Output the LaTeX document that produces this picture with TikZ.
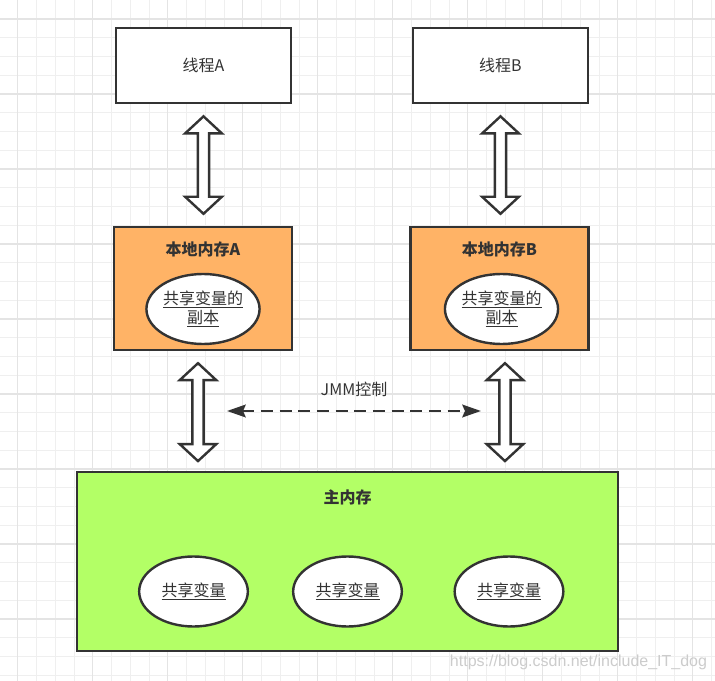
\documentclass[tikz,border=0pt]{standalone}
\usepackage{fontspec}
\setmainfont{Noto Sans CJK SC}
\newfontfamily\markfont{Liberation Sans}
\usetikzlibrary{arrows.meta, calc, shapes.geometric, positioning}

\definecolor{ink}{HTML}{333333}
\definecolor{cachefill}{HTML}{FFB366}
\definecolor{memfill}{HTML}{B3FF66}
\definecolor{gridminor}{HTML}{EFEFEF}
\definecolor{gridmajor}{HTML}{E4E4E4}

\tikzset{
  thread/.style = {rectangle, draw=ink, line width=1.8pt, fill=white, minimum width=131.5pt, minimum height=56.5pt, text=ink, font=\fontsize{12}{15}\selectfont},
  cache/.style = {rectangle, draw=ink, line width=1.8pt, fill=cachefill, minimum width=133.5pt, minimum height=92.25pt},
  mainmem/.style = {rectangle, draw=ink, line width=1.8pt, fill=memfill, minimum width=405.75pt, minimum height=134.25pt},
  title/.style = {text=ink, font=\bfseries\fontsize{12}{15}\selectfont},
  var/.style = {ellipse, draw=ink, line width=1.8pt, fill=white, inner sep=0pt, minimum width=81.5pt, minimum height=52.5pt, text=ink, align=center, font=\fontsize{12}{14.5}\selectfont},
  fat/.style = {draw=ink, line width=1.8pt, fill=white, line join=miter,
    to path={let \p1=(\tikztostart), \p2=(\tikztotarget) in
      (\x1,\y1-9pt) -- (\x1+13.75pt,\y1-21.75pt) -- (\x1+4.25pt,\y1-21.75pt)
      -- (\x1+4.25pt,\y2+21.75pt) -- (\x1+13.75pt,\y2+21.75pt) -- (\x1,\y2+9pt)
      -- (\x1-13.75pt,\y2+21.75pt) -- (\x1-4.25pt,\y2+21.75pt)
      -- (\x1-4.25pt,\y1-21.75pt) -- (\x1-13.75pt,\y1-21.75pt) -- cycle}},
  jmm/.style = {draw=ink, line width=2pt, dash pattern=on 9pt off 5pt,
    {Stealth[length=14pt, width=9.5pt, inset=2pt]}-{Stealth[length=14pt, width=9.5pt, inset=2pt]}}
}

\begin{document}
\begin{tikzpicture}[x=0.75pt, y=-0.75pt]
  \useasboundingbox[fill=white] (0,0) rectangle (715,681);
  % grid
  \foreach \k in {1,...,38} \draw[gridminor, line width=0.75pt] (18.75*\k-1,0) -- (18.75*\k-1,681);
  \foreach \k in {1,...,36} \draw[gridminor, line width=0.75pt] (0,18.75*\k+0.25) -- (715,18.75*\k+0.25);
  \foreach \k in {1,5,...,37} \draw[gridmajor, line width=1pt] (18.75*\k-1,0) -- (18.75*\k-1,681);
  \foreach \k in {1,5,...,33} \draw[gridmajor, line width=1pt] (0,18.75*\k+0.25) -- (715,18.75*\k+0.25);

  % threads
  \node (tA) [thread] at (203.5,65.5) {线程A};
  \node (tB) [thread] at (500.5,65.5) {线程B};

  % local memory
  \node (lA) [cache] at (203,288.5) {};
  \node (lB) [cache] at (499.5,288.5) {};
  \node (lAt) [title] at ([yshift=-18pt]lA.north) {本地内存A};
  \node (lBt) [title] at ([yshift=-18pt]lB.north) {本地内存B};
  \node (cA) [var] at (203,309) {\underline{共享变量的}\\\underline{副本}};
  \node (cB) [var] at (501.5,309) {\underline{共享变量的}\\\underline{副本}};

  % main memory
  \node (mem) [mainmem] at (347.5,561.5) {};
  \node (memt) [title] at ([yshift=-20.25pt]mem.north) {主内存};
  \node (v1) [var] at (193.5,591.5) {\underline{共享变量}};
  \node (v2) [var] at (347.5,591.5) {\underline{共享变量}};
  \node (v3) [var] at (509,591.5) {\underline{共享变量}};

  % transfers
  \draw[fat] (tA.south) to (lA.north);
  \draw[fat] (tB.south) to (lB.north);
  \draw[fat] ([xshift=-3.75pt]lA.south) to ([yshift=-1.7pt]mem.north);
  \draw[fat] ([xshift=4.1pt]lB.south) to ([yshift=-1.7pt]mem.north);

  % JMM control
  \coordinate (jl) at (227,411);
  \coordinate (jr) at (481,411);
  \draw[jmm] (jl) -- node[midway, yshift=16.5pt, text=ink, font=\fontsize{12}{15}\selectfont] {JMM控制} (jr);

  \node (mark) [text=gray!40, font=\markfont\fontsize{12}{14}\selectfont] at (578.5,662) {https://blog.csdn.net/include\_IT\_dog};
\end{tikzpicture}
\end{document}
